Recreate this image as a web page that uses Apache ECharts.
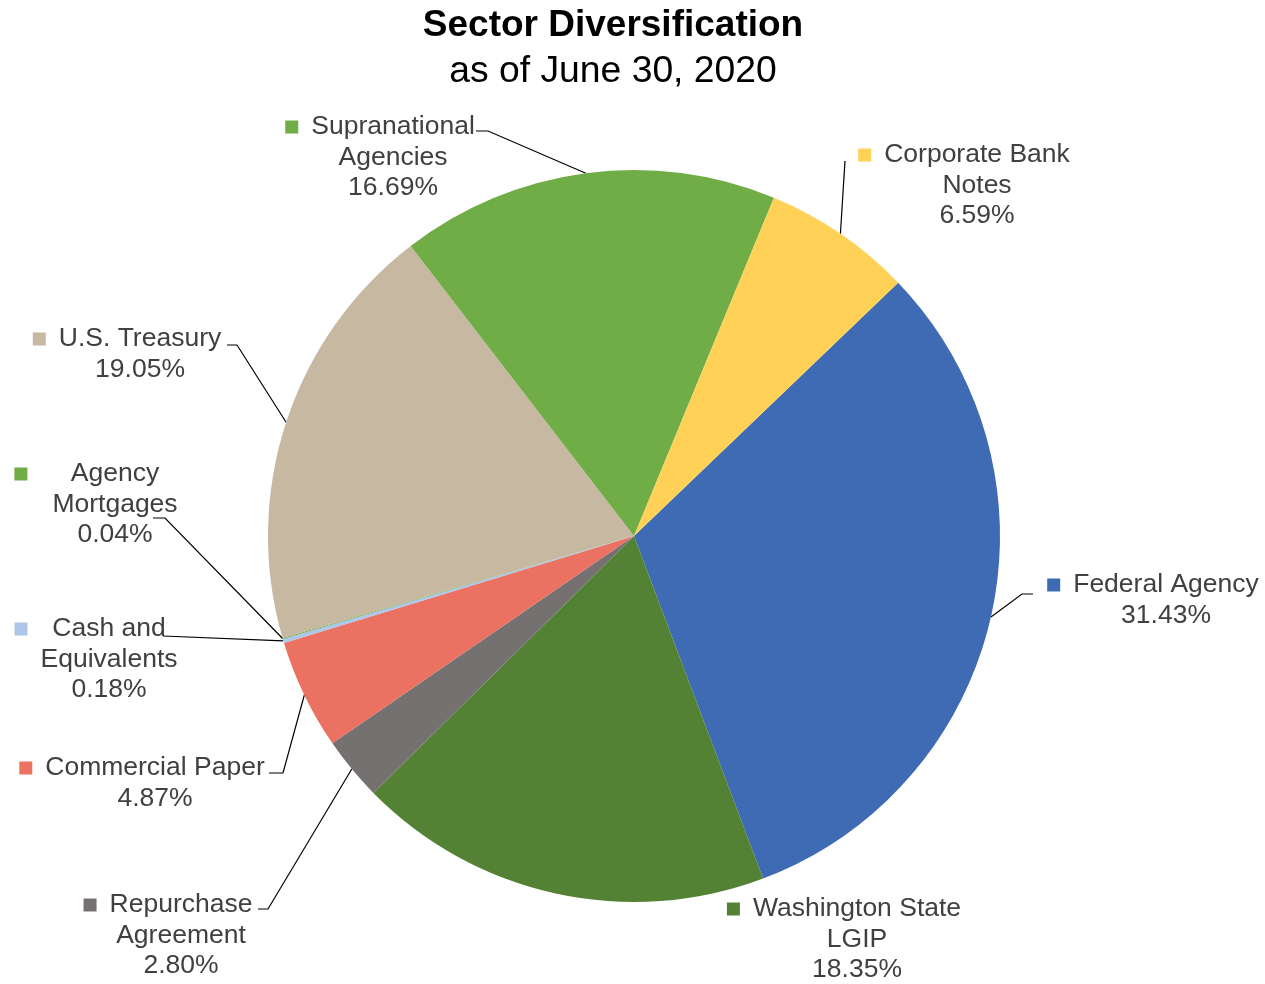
<!DOCTYPE html>
<html>
<head>
<meta charset="utf-8">
<script src="https://cdn.jsdelivr.net/npm/echarts@6/dist/echarts.min.js"></script>
<style>
html,body{margin:0;padding:0;background:#fff;}
#chart{width:1265px;height:984px;}
</style>
</head>
<body>
<div id="chart"></div>
<script>
// ---- data ----
const sectorNames = [
  'Federal Agency',
  'Washington State\nLGIP',
  'Repurchase\nAgreement',
  'Commercial Paper',
  'Cash and\nEquivalents',
  'Agency\nMortgages',
  'U.S. Treasury',
  'Supranational\nAgencies',
  'Corporate Bank\nNotes'
];
const sectorValues = [31.43, 18.35, 2.80, 4.87, 0.18, 0.04, 19.05, 16.69, 6.59];
const chartTitle = 'Sector Diversification';
const chartSubtitle = 'as of June 30, 2020';

// ---- styles / layout ----
const sectorColors = ['#3F6AB4', '#548235', '#767171', '#EB7163', '#ADC5E7', '#70AD47', '#C7B8A2', '#70AD47', '#FFD257'];
// label text column centre x, first-line centre y
const labelAnchor = [
  [1166, 585], [857, 909], [181, 905], [155, 768], [109, 629],
  [115, 474], [140, 339], [393, 127], [977, 155]
];
// leader-line elbow and end points (null = no leader line)
const leaderPts = [
  [[1022, 594], [1033, 594]],
  null,
  [[268, 909], [258, 909]],
  [[283, 773], [269, 773]],
  [[163, 636], [163, 636]],
  [[165, 518], [153, 518]],
  [[237, 345], [227, 345]],
  [[488, 131], [476, 131]],
  [[845, 161], [845, 161]]
];
const markerGap = [13, 13, 13, 13, 13, 25, 13, 13, 13];
const FS = 26.5, LH = 30.5, MK = 13;

function makeLabel(i) {
  const lines = sectorNames[i].split('\n');
  lines.push(sectorValues[i].toFixed(2) + '%');
  const fmt = lines.map((ln, k) => (k === 0 ? '{m|}{g|}' : '{l|}') + '{t|' + ln + '}{r|}').join('\n');
  const side = MK + markerGap[i];
  return {
    show: true,
    formatter: fmt,
    rich: {
      m: { width: MK, height: MK, backgroundColor: sectorColors[i], align: 'left', lineHeight: LH },
      g: { width: markerGap[i], align: 'left', lineHeight: LH },
      l: { width: side, align: 'left', lineHeight: LH },
      r: { width: side, align: 'right', lineHeight: LH },
      t: { fontSize: FS, fontFamily: 'Liberation Sans, Arial, sans-serif', color: '#404040', align: 'center', lineHeight: LH }
    }
  };
}

const pieData = sectorNames.map((n, i) => ({
  name: n,
  value: sectorValues[i],
  itemStyle: { color: sectorColors[i] },
  label: makeLabel(i),
  labelLine: { show: leaderPts[i] !== null }
}));

const chart = echarts.init(document.getElementById('chart'), null, { renderer: 'canvas' });
chart.setOption({
  backgroundColor: '#ffffff',
  animation: false,
  title: [
    { text: chartTitle, left: 608, top: 2, textAlign: 'center',
      textStyle: { fontFamily: 'Liberation Sans, Arial, sans-serif', fontWeight: 'bold', fontSize: 37, color: '#000' } },
    { text: chartSubtitle, left: 608, top: 48, textAlign: 'center',
      textStyle: { fontFamily: 'Liberation Sans, Arial, sans-serif', fontWeight: 'normal', fontSize: 37.3, color: '#000' } }
  ],
  series: [{
    type: 'pie',
    center: [634, 536],
    radius: 366,
    startAngle: 43.8,
    clockwise: true,
    avoidLabelOverlap: false,
    itemStyle: { borderWidth: 0 },
    label: { position: 'outside' },
    labelLine: { show: true, length: 20, length2: 10, smooth: false, lineStyle: { color: '#000', width: 1.2 } },
    emphasis: { disabled: true },
    data: pieData,
    labelLayout: function (p) {
      const i = p.dataIndex;
      const res = {
        x: labelAnchor[i][0],
        y: labelAnchor[i][1] - LH / 2,
        align: 'center',
        verticalAlign: 'top'
      };
      if (leaderPts[i] && p.labelLinePoints) {
        res.labelLinePoints = [p.labelLinePoints[0], leaderPts[i][0], leaderPts[i][1]];
      }
      return res;
    }
  }]
});
</script>
</body>
</html>
